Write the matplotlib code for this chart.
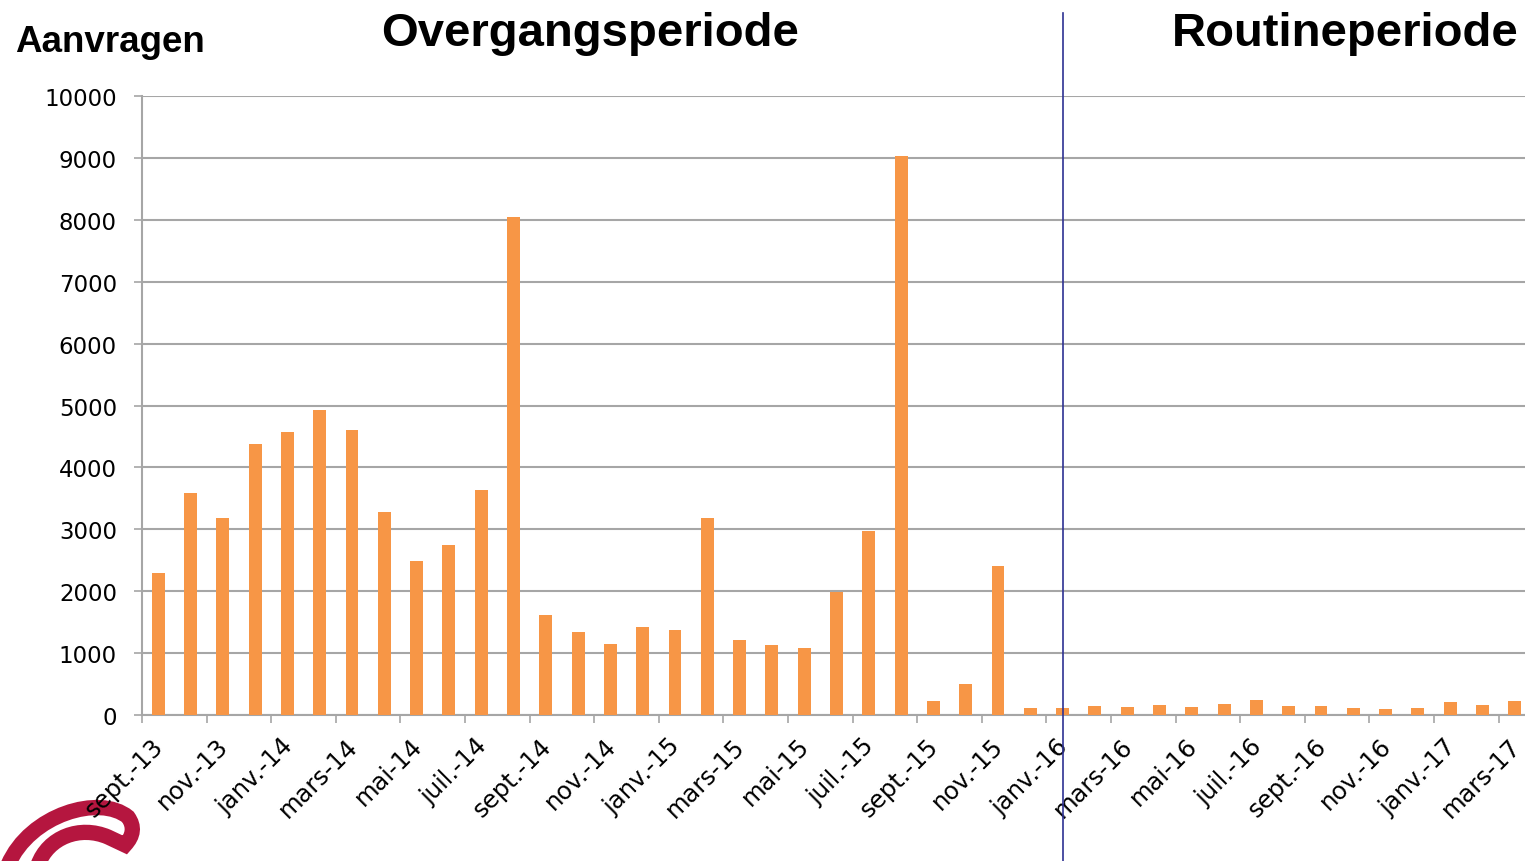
import matplotlib.pyplot as plt
import matplotlib.transforms as mtransforms
from matplotlib.path import Path
from matplotlib.patches import PathPatch
import numpy as np

# Monthly requests, sept.-13 .. mars-17
months = ['sept.-13', 'oct.-13', 'nov.-13', 'déc.-13',
          'janv.-14', 'févr.-14', 'mars-14', 'avr.-14', 'mai-14', 'juin-14',
          'juil.-14', 'août-14', 'sept.-14', 'oct.-14', 'nov.-14', 'déc.-14',
          'janv.-15', 'févr.-15', 'mars-15', 'avr.-15', 'mai-15', 'juin-15',
          'juil.-15', 'août-15', 'sept.-15', 'oct.-15', 'nov.-15', 'déc.-15',
          'janv.-16', 'févr.-16', 'mars-16', 'avr.-16', 'mai-16', 'juin-16',
          'juil.-16', 'août-16', 'sept.-16', 'oct.-16', 'nov.-16', 'déc.-16',
          'janv.-17', 'févr.-17', 'mars-17']
requests = [2290, 3580, 3190, 4370, 4565, 4920, 4600, 3285, 2480, 2740,
            3640, 8045, 1620, 1345, 1150, 1420, 1380, 3185, 1210, 1130,
            1080, 1990, 2965, 9030, 230, 505, 2415, 120,
            115, 148, 137, 168, 137, 173, 238, 142, 146, 108, 103, 110,
            205, 162, 222]
split_month = 'janv.-16'

fig = plt.figure(figsize=(15.25, 8.62), dpi=100)
W, H = 1525, 862
ax = fig.add_axes([142 / W, 1 - 716 / H, (1531 - 142) / W, (716 - 97) / H])
ax.patch.set_alpha(0)

x = np.arange(len(months))
ax.bar(x, requests, width=0.4, color='#f79646', zorder=3)

ax.set_xlim(-0.5, len(months) - 0.5)
ax.set_ylim(0, 10000)
ax.set_yticks(np.arange(0, 10001, 1000))
ax.yaxis.grid(True, color='#a6a6a6', linewidth=1.5, zorder=0)
ax.tick_params(axis='y', labelsize=16.5, length=6, color='#a6a6a6', width=1.2, pad=12)

# category boundary ticks every 2 months, labels on every 2nd month
ax.set_xticks(np.arange(-0.5, len(months), 2))
ax.set_xticklabels([])
ax.tick_params(axis='x', length=6, color='#a6a6a6', width=1.2)
for i in range(0, len(months), 2):
    ax.text(i + 0.05, -430, months[i], rotation=45, rotation_mode='anchor',
            ha='right', va='center', fontsize=17.5, clip_on=False)

for s in ['top', 'right']:
    ax.spines[s].set_visible(False)
for s in ['left', 'bottom']:
    ax.spines[s].set_color('#a6a6a6')
    ax.spines[s].set_linewidth(1.5)

# period separator
xs = months.index(split_month)
trans = mtransforms.blended_transform_factory(ax.transData, ax.transAxes)
ax.plot([xs, xs], [(716 - 862) / 619, (716 - 14) / 619], color='#2e3192',
        linewidth=1.2, transform=trans, clip_on=False, zorder=4)

fig.text(15 / W, 1 - 42 / H, 'Aanvragen', fontsize=26.5, fontweight='bold',
         family='Liberation Sans', va='center', ha='left')
fig.text(590 / W, 1 - 34 / H, 'Overgangsperiode', fontsize=34, fontweight='bold',
         family='Liberation Sans', va='center', ha='center')
fig.text(1519 / W, 1 - 34 / H, 'Routineperiode', fontsize=34, fontweight='bold',
         family='Liberation Sans', va='center', ha='right')

# logo swoosh (bottom left), behind the tick labels
px = mtransforms.Affine2D().scale(1 / W, -1 / H).translate(0, 1) + fig.transFigure
verts = [(8, 866), (30, 815), (100, 795), (128, 818),
         (138, 832), (125, 846), (108, 838),
         (80, 826), (48, 838), (38, 866)]
codes = [Path.MOVETO, Path.CURVE4, Path.CURVE4, Path.CURVE4,
         Path.CURVE3, Path.CURVE3, Path.LINETO,
         Path.CURVE4, Path.CURVE4, Path.CURVE4]
fig.patches.append(PathPatch(Path(verts, codes), facecolor='none', edgecolor='#b5163f',
                             linewidth=11, transform=px, capstyle='round', zorder=-1))

fig.savefig('out.png', dpi=100)
